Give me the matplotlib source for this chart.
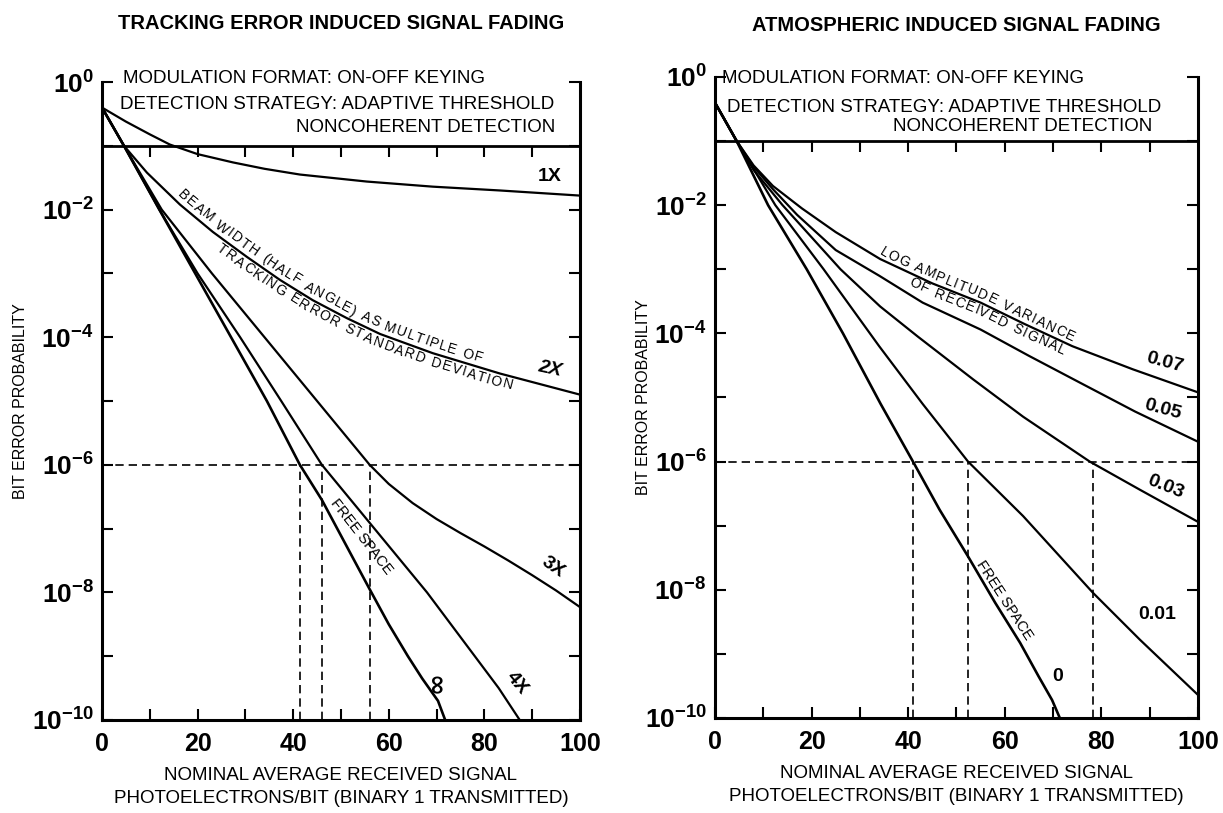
import numpy as np
import matplotlib
matplotlib.use('Agg')
import matplotlib.pyplot as plt
from matplotlib.ticker import NullLocator
from matplotlib.transforms import IdentityTransform

# ---------------- DATA (x = photoelectrons/bit, values in decades of BER) ----------------
# tracking error panel
track_x_inf = [0, 4.6, 12, 19.5, 27, 34.5, 41.4, 46, 51, 56, 60, 64, 67, 70.3, 71.8]
track_lp_inf = [-0.4, -1, -2, -3, -4, -5, -6, -6.55, -7.25, -7.95, -8.5, -9.0, -9.35, -9.7, -10]
track_x_4 = [0, 4.6, 12, 20, 28.9, 37.5, 46, 51.5, 57, 62.5, 68, 73, 78, 83, 87.4]
track_lp_4 = [-0.4, -1, -2, -3, -4, -5, -6, -6.5, -7, -7.5, -8, -8.5, -9, -9.5, -10]
track_x_3 = [0, 4.6, 12.5, 23, 34, 45, 56, 60, 65, 70, 75, 80, 85, 90, 95, 100]
track_lp_3 = [-0.4, -1, -2, -3, -4, -5, -6, -6.3, -6.6, -6.85, -7.07, -7.28, -7.5, -7.73, -7.97, -8.23]
track_x_2 = [0, 4.6, 9.4, 16.3, 23.2, 30.3, 37.2, 44.1, 51.2, 58.2, 69.2, 83.3, 100]
track_lp_2 = [-0.4, -1.0, -1.42, -1.92, -2.35, -2.74, -3.1, -3.42, -3.7, -3.95, -4.25, -4.57, -4.9]
track_x_1 = [0, 5, 10, 14.2, 20, 27.4, 34, 41.4, 55.4, 69.2, 83.3, 100]
track_lp_1 = [-0.4, -0.62, -0.82, -0.98, -1.13, -1.26, -1.36, -1.45, -1.56, -1.64, -1.70, -1.78]
track_cross = [41.4, 46, 56]

# atmospheric panel
atm_x_0 = [0, 4.5, 11, 19, 26.5, 34.3, 41, 46.5, 52.4, 58, 63.2, 67, 69.8, 71.4]
atm_lp_0 = [-0.4, -1, -2, -3, -4, -5.1, -6, -6.75, -7.48, -8.2, -8.83, -9.35, -9.72, -10]
atm_x_1 = [0, 4.5, 12.5, 22.5, 34, 43, 52.4, 63.8, 78.3, 88, 100]
atm_lp_1 = [-0.4, -1, -2, -3, -4.2, -5.1, -6, -6.85, -8.05, -8.78, -9.64]
atm_x_3 = [0, 4.5, 8, 14, 26, 34.2, 42, 53.5, 63.8, 77.6, 88, 100]
atm_lp_3 = [-0.4, -1, -1.45, -2, -3, -3.58, -4.05, -4.72, -5.3, -6.0, -6.44, -6.94]
atm_x_5 = [0, 4.5, 8, 12, 17, 25, 34, 43, 55, 65, 75.6, 87, 100]
atm_lp_5 = [-0.4, -1, -1.4, -1.75, -2.15, -2.7, -3.1, -3.52, -3.94, -4.35, -4.77, -5.22, -5.69]
atm_x_7 = [0, 4.5, 8, 12, 18, 25, 34.2, 45, 55, 64, 74, 86.5, 100]
atm_lp_7 = [-0.4, -1, -1.38, -1.7, -2.05, -2.42, -2.84, -3.22, -3.52, -3.85, -4.2, -4.56, -4.92]
atm_cross = [41, 52.4, 78.3]

threshold = 1e-6
x_ticks = [0, 10, 20, 30, 40, 50, 60, 70, 80, 90, 100]
x_tick_labels = ['0', '', '20', '', '40', '', '60', '', '80', '', '100']
y_ticks = [1e-10, 1e-9, 1e-8, 1e-7, 1e-6, 1e-5, 1e-4, 1e-3, 1e-2, 1e-1, 1e0]
y_tick_labels = [r'$10^{-10}$', '', r'$10^{-8}$', '', r'$10^{-6}$', '', r'$10^{-4}$', '',
                 r'$10^{-2}$', '', r'$10^{0}$']

BOLD = ['Liberation Sans', 'DejaVu Sans']
plt.rcParams['font.family'] = ['Liberation Sans', 'DejaVu Sans']
plt.rcParams['mathtext.fontset'] = 'custom'
plt.rcParams['mathtext.rm'] = 'Liberation Sans:bold'
plt.rcParams['mathtext.bf'] = 'Liberation Sans:bold'
plt.rcParams['mathtext.it'] = 'Liberation Sans:bold'
plt.rcParams['mathtext.sf'] = 'Liberation Sans:bold'

fig = plt.figure(figsize=(12.23, 8.13), dpi=100)
ax1 = fig.add_axes([0.0834, 0.1144, 0.3908, 0.7847])
ax2 = fig.add_axes([0.5846, 0.1169, 0.3949, 0.7884])


def setup(ax, title, title_y, ylab_x):
    ax.set_yscale('log')
    ax.set_xlim(0, 100)
    ax.set_ylim(1e-10, 1)
    ax.spines['top'].set_visible(False)
    for s in ['left', 'right', 'bottom']:
        ax.spines[s].set_linewidth(2.2)
    ax.set_xticks(x_ticks, labels=x_tick_labels, fontsize=18, fontweight='bold', family=BOLD)
    ax.set_yticks(y_ticks, labels=y_tick_labels, fontsize=19)
    ax.yaxis.set_minor_locator(NullLocator())
    ax.tick_params(axis='both', direction='in', length=8, width=1.5)
    ax.tick_params(axis='y', right=True, pad=6)
    ax.tick_params(axis='x', pad=9)
    # line at 1e-1 with its own ticks
    ax.axhline(1e-1, color='k', lw=2.0)
    ax.vlines(x_ticks[1:-1], 10 ** -1.17, 1e-1, color='k', lw=1.5)
    ax.set_xlabel('NOMINAL AVERAGE RECEIVED SIGNAL\nPHOTOELECTRONS/BIT (BINARY 1 TRANSMITTED)',
                  fontsize=13.5, linespacing=1.45)
    ax.xaxis.set_label_coords(0.5, -0.074)
    ax.set_ylabel('BIT ERROR PROBABILITY', fontsize=11.5)
    ax.yaxis.set_label_coords(ylab_x, 0.5)
    ax.text(0.5, title_y, title, transform=ax.transAxes, ha='center', va='center',
            fontsize=14.5, fontweight='bold', family=BOLD)
    # dashed 1e-6 reference
    ax.hlines(threshold, 0, 100, color='k', lw=1.2, ls=(0, (5, 3)))


def curve(ax, xs, lps, lw=1.6):
    ax.plot(xs, 10.0 ** np.asarray(lps), color='k', lw=lw)


def text_along(ax, xs, lps, s, x_start, offset, size=10, gap=1.2):
    renderer = fig.canvas.get_renderer()
    pts = ax.transData.transform(np.column_stack([xs, 10.0 ** np.asarray(lps)]))
    seg = np.hypot(np.diff(pts[:, 0]), np.diff(pts[:, 1]))
    cum = np.concatenate([[0], np.cumsum(seg)])
    start_px = ax.transData.transform((x_start, 1.0))[0]
    pos = np.interp(start_px, pts[:, 0], cum)
    for ch in s:
        if ch == ' ':
            pos += size * 0.4 * fig.dpi / 72
            continue
        t = fig.text(0, 0, ch, fontsize=size, ha='center', va='center',
                     rotation_mode='anchor', transform=IdentityTransform())
        w = t.get_window_extent(renderer).width
        mid = pos + w / 2
        i = min(max(np.searchsorted(cum, mid), 1), len(cum) - 1)
        d = pts[i] - pts[i - 1]
        d = d / np.hypot(d[0], d[1])
        x = np.interp(mid, cum, pts[:, 0]) - d[1] * offset
        y = np.interp(mid, cum, pts[:, 1]) + d[0] * offset
        t.set_position((x, y))
        t.set_rotation(np.degrees(np.arctan2(d[1], d[0])))
        pos += w + gap


LBL = dict(fontsize=14, fontweight='bold', ha='center', va='center')

# ---------------- LEFT: tracking error ----------------
setup(ax1, 'TRACKING ERROR INDUCED SIGNAL FADING', 1.091, -0.155)
curve(ax1, track_x_inf, track_lp_inf, lw=1.9)
curve(ax1, track_x_4, track_lp_4)
curve(ax1, track_x_3, track_lp_3)
curve(ax1, track_x_2, track_lp_2)
curve(ax1, track_x_1, track_lp_1)
ax1.vlines(track_cross, 1e-10, threshold, color='k', lw=1.2, ls=(0, (5, 3)))

ax1.text(0.044, 1.005, 'MODULATION FORMAT: ON-OFF KEYING', transform=ax1.transAxes,
         fontsize=13.5, va='center')
ax1.text(0.038, 0.964, 'DETECTION STRATEGY: ADAPTIVE THRESHOLD', transform=ax1.transAxes,
         fontsize=13.5, va='center')
ax1.text(0.948, 0.929, 'NONCOHERENT DETECTION', transform=ax1.transAxes,
         fontsize=13.5, va='center', ha='right')

ax1.text(93.7, 10 ** -1.48, '1X', **LBL)
ax1.text(93.7, 10 ** -4.5, '2X', rotation=-12, style='italic', **LBL)
ax1.text(94.4, 10 ** -7.6, '3X', rotation=-35, **LBL)
ax1.text(86.8, 10 ** -9.42, '4X', rotation=-50, **LBL)
ax1.text(69.9, 10 ** -9.4, '∞', rotation=90, fontsize=19, fontweight='bold',
         family='DejaVu Sans', ha='center', va='center')
ax1.text(54.2, 10 ** -7.13, 'FREE SPACE', fontsize=10.5, ha='center', va='center', rotation=-52)

text_along(ax1, track_x_2, track_lp_2, 'BEAM WIDTH (HALF ANGLE) AS MULTIPLE OF', 15, 9)
text_along(ax1, track_x_2, track_lp_2, 'TRACKING ERROR STANDARD DEVIATION', 25.5, -9)

# ---------------- RIGHT: atmospheric ----------------
setup(ax2, 'ATMOSPHERIC INDUCED SIGNAL FADING', 1.08, -0.133)
curve(ax2, atm_x_0, atm_lp_0, lw=1.9)
curve(ax2, atm_x_1, atm_lp_1)
curve(ax2, atm_x_3, atm_lp_3)
curve(ax2, atm_x_5, atm_lp_5)
curve(ax2, atm_x_7, atm_lp_7)
ax2.vlines(atm_cross, 1e-10, threshold, color='k', lw=1.2, ls=(0, (5, 3)))

ax2.text(0.015, 0.998, 'MODULATION FORMAT: ON-OFF KEYING', transform=ax2.transAxes,
         fontsize=13.5, va='center')
ax2.text(0.025, 0.953, 'DETECTION STRATEGY: ADAPTIVE THRESHOLD', transform=ax2.transAxes,
         fontsize=13.5, va='center')
ax2.text(0.905, 0.922, 'NONCOHERENT DETECTION', transform=ax2.transAxes,
         fontsize=13.5, va='center', ha='right')

ax2.text(93.2, 10 ** -4.45, '0.07', rotation=-15, **LBL)
ax2.text(92.8, 10 ** -5.19, '0.05', rotation=-15, **LBL)
ax2.text(93.2, 10 ** -6.39, '0.03', rotation=-22, **LBL)
ax2.text(91.5, 10 ** -8.39, '0.01', **LBL)
ax2.text(71, 10 ** -9.36, '0', **LBL)
ax2.text(60, 10 ** -8.16, 'FREE SPACE', fontsize=10.5, ha='center', va='center', rotation=-57)

text_along(ax2, atm_x_7, atm_lp_7, 'LOG AMPLITUDE VARIANCE', 33.5, 8)
text_along(ax2, atm_x_7, atm_lp_7, 'OF RECEIVED SIGNAL', 41, -8)

fig.savefig('out.png', dpi=100, facecolor='white')
